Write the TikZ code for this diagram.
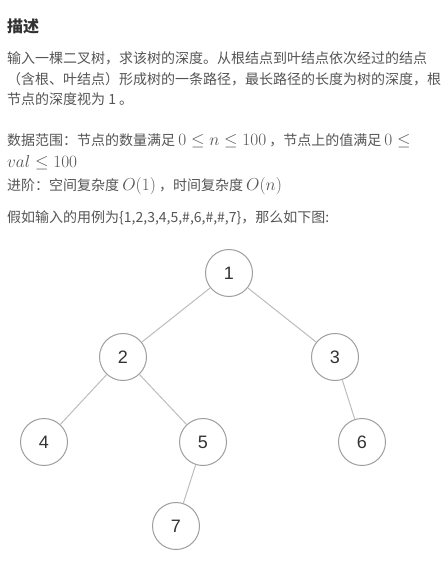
\documentclass[tikz,border=0pt]{standalone}
\usepackage{fontspec}
\newfontfamily\cjk{Noto Sans CJK SC}
\newfontfamily\digitfont{Liberation Sans}
\definecolor{bodygray}{HTML}{555555}
\definecolor{titlegray}{HTML}{333333}
\definecolor{circgray}{HTML}{9E9E9E}
\definecolor{edgegray}{HTML}{BDBDBD}
\definecolor{numgray}{HTML}{333333}
\newcommand{\mth}[1]{{\fontsize{17}{20}\selectfont$#1$}}
\begin{document}
\begin{tikzpicture}[x=1pt,y=-1pt,
  txt/.style={anchor=base west, inner sep=0pt, text=bodygray, font=\cjk\fontsize{14}{21}\selectfont},
  tnode/.style={circle, draw=circgray, line width=1pt, minimum size=47pt, inner sep=0pt, font=\digitfont\fontsize{18}{18}\selectfont, text=numgray, fill=white},
  edgeline/.style={draw=edgegray, line width=1pt}]
\useasboundingbox (0,0) rectangle (443,583);
\fill[white] (0,0) rectangle (443,583);
\node[txt, font=\cjk\bfseries\fontsize{16}{20}\selectfont, text=titlegray] (title) at (7,33) {描述};
\node[txt] (d1) at (7,64) {输入一棵二叉树，求该树的深度。从根结点到叶结点依次经过的结点};
\node[txt] (d2) at (7,85) {（含根、叶结点）形成树的一条路径，最长路径的长度为树的深度，根};
\node[txt] (d3) at (7,105) {节点的深度视为 1 。};
\node[txt] (r1) at (7,146) {数据范围：节点的数量满足 \mth{0\leq n\leq 100} ，节点上的值满足 \mth{0 \leq}};
\node[txt] (r2) at (7,167) {\mth{val\leq 100}};
\node[txt] (a1) at (7,190) {进阶：空间复杂度 \mth{O(1)} ，时间复杂度 \mth{O(n)}};
\node[txt] (e1) at (7,222) {假如输入的用例为\{1,2,3,4,5,\#,6,\#,\#,7\}，那么如下图:};
\node[tnode] (n1) at (229,273) {1};
\node[tnode] (n2) at (123,357) {2};
\node[tnode] (n3) at (335,357) {3};
\node[tnode] (n4) at (44,442) {4};
\node[tnode] (n5) at (203,442) {5};
\node[tnode] (n6) at (362,442) {6};
\node[tnode] (n7) at (176,526) {7};
\draw[edgeline] (n1) -- (n2);
\draw[edgeline] (n1) -- (n3);
\draw[edgeline] (n2) -- (n4);
\draw[edgeline] (n2) -- (n5);
\draw[edgeline] (n3) -- (n6);
\draw[edgeline] (n5) -- (n7);
\end{tikzpicture}
\end{document}
